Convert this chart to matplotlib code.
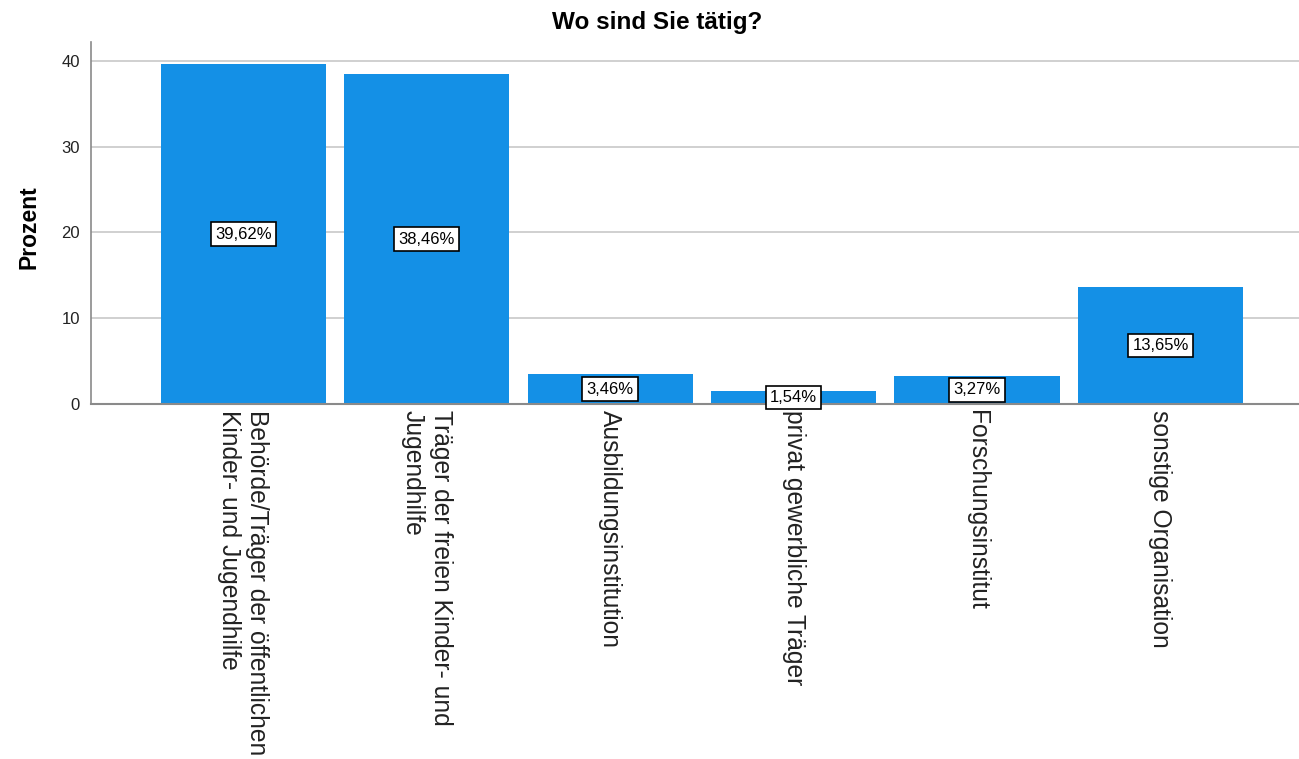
import numpy as np
import matplotlib.pyplot as plt

plt.rcParams['font.family'] = ['Liberation Sans', 'DejaVu Sans']

kategorien = [
    "Behörde/Träger der öffentlichen\nKinder- und Jugendhilfe",
    "Träger der freien Kinder- und\nJugendhilfe",
    "Ausbildungsinstitution",
    "privat gewerbliche Träger",
    "Forschungsinstitut",
    "sonstige Organisation",
]
prozent = [39.62, 38.46, 3.46, 1.54, 3.27, 13.65]
werte_labels = ["39,62%", "38,46%", "3,46%", "1,54%", "3,27%", "13,65%"]

fig = plt.figure(figsize=(12.99, 7.59), dpi=100)
ax = fig.add_axes([91 / 1299, 1 - 404 / 759, (1299 - 91) / 1299, (404 - 42) / 759])

x = np.arange(len(kategorien))
ax.bar(x, prozent, width=0.9, color="#1490E6", zorder=3)

for xi, v, lab in zip(x, prozent, werte_labels):
    ax.text(xi, v / 2, lab, ha="center", va="center", fontsize=12, zorder=5,
            bbox=dict(boxstyle="square,pad=0.25", fc="white", ec="black", lw=1.2))

ax.set_xlim(-0.83, 5.755)
ax.set_ylim(0, 42.2)
ax.set_yticks([0, 10, 20, 30, 40])
ax.set_yticklabels(["0", "10", "20", "30", "40"], fontsize=12, color="#222222")
ax.yaxis.grid(True, color="#c8c8c8", lw=1.2, zorder=0)
ax.tick_params(axis="y", length=0, pad=8)

ax.set_xticks(x)
ax.set_xticklabels([])
ax.tick_params(axis="x", length=0)
for xi, k in zip(x, kategorien):
    ax.text(xi, -0.65, k, rotation=-90, ha="center", va="top", fontsize=17.7,
            multialignment="left", color="#222222")

for s in ["top", "right"]:
    ax.spines[s].set_visible(False)
ax.spines["left"].set_color("#8a8a8a")
ax.spines["left"].set_linewidth(1.2)
ax.spines["bottom"].set_color("#8a8a8a")
ax.spines["bottom"].set_linewidth(1.5)
ax.spines["bottom"].set_zorder(4)

fig.text(29 / 1299, 1 - 227 / 759, "Prozent", rotation=90, ha="center", va="center",
         fontsize=16.5, fontweight="bold")
fig.text(657 / 1299, 1 - 22 / 759, "Wo sind Sie tätig?", ha="center", va="center",
         fontsize=17.5, fontweight="bold")

fig.savefig("out.png", dpi=100)
